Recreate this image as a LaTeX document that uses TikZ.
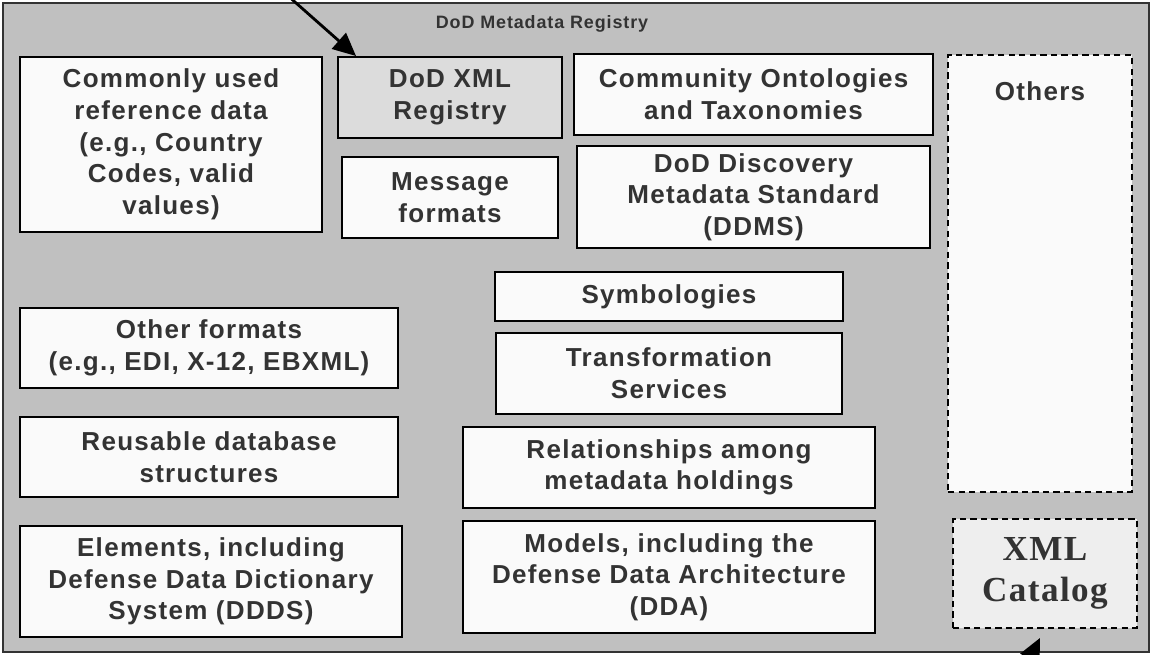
\documentclass[tikz,border=0pt]{standalone}
\usepackage{fontspec}
\setmainfont{Liberation Sans}
\newfontfamily\boxfont[LetterSpace=5]{Liberation Sans}
\newfontfamily\catfont[LetterSpace=4]{Liberation Serif}
\definecolor{regbg}{RGB}{192,192,192}
\definecolor{boxbg}{RGB}{250,250,250}
\definecolor{xmlbg}{RGB}{220,220,220}
\definecolor{catbg}{RGB}{238,238,238}
\definecolor{txtdark}{RGB}{51,51,51}
\usetikzlibrary{arrows.meta}

\begin{document}
\begin{tikzpicture}[
    item/.style={draw=black, fill=boxbg, line width=1.1pt, align=center, text=txtdark,
                 inner sep=2pt, font=\boxfont\bfseries\fontsize{14.8}{18}\selectfont},
    dashitem/.style={item, dash pattern=on 3.6pt off 2.4pt},
    feed/.style={-{Triangle[length=0.46cm,width=0.42cm]}, line width=1.6pt, black}
  ]
  \useasboundingbox (0,0) rectangle (23.02,13.1);

  %% Registry frame
  \node[draw=txtdark, fill=regbg, line width=0.8pt, minimum width=22.92cm, minimum height=12.98cm, inner sep=0pt] (reg) at (11.52,6.55) {};
  \node[text=txtdark, font=\boxfont\bfseries\fontsize{10.2}{12}\selectfont] (title) at (10.84,12.62) {DoD Metadata Registry};

  %% Left column
  \node[item, minimum width=6.04cm, minimum height=3.5cm]  (refdata)  at (3.42,10.21) {Commonly used\\reference data\\(e.g., Country\\Codes, valid\\values)};
  \node[item, minimum width=7.56cm, minimum height=1.6cm]  (otherfmt) at (4.18,6.14)  {Other formats\\(e.g., EDI, X-12, EBXML)};
  \node[item, minimum width=7.56cm, minimum height=1.6cm]  (reuse)    at (4.18,3.96)  {Reusable database\\structures};
  \node[item, minimum width=7.64cm, minimum height=2.22cm] (elem)     at (4.22,1.47)  {Elements, including\\Defense Data Dictionary\\System (DDDS)};

  %% Middle
  \node[item, fill=xmlbg, minimum width=4.48cm, minimum height=1.62cm] (xmlreg) at (9.0,11.15) {DoD XML\\Registry};
  \node[item, minimum width=4.32cm, minimum height=1.62cm] (msg)    at (9.0,9.15)   {Message\\formats};
  \node[item, minimum width=7.18cm, minimum height=1.62cm] (onto)   at (15.07,11.21) {Community Ontologies\\and Taxonomies};
  \node[item, minimum width=7.06cm, minimum height=2.04cm] (ddms)   at (15.07,9.16)  {DoD Discovery\\Metadata Standard\\(DDMS)};
  \node[item, minimum width=6.96cm, minimum height=0.98cm] (symb)   at (13.38,7.17)  {Symbologies};
  \node[item, minimum width=6.92cm, minimum height=1.62cm] (trans)  at (13.38,5.63)  {Transformation\\Services};
  \node[item, minimum width=8.24cm, minimum height=1.62cm] (rel)    at (13.38,3.75)  {Relationships among\\metadata holdings};
  \node[item, minimum width=8.24cm, minimum height=2.24cm] (models) at (13.38,1.56)  {Models, including the\\Defense Data Architecture\\(DDA)};

  %% Right column
  \node[dashitem, minimum width=3.68cm, minimum height=8.74cm,
        label={[anchor=north, yshift=-0.42cm, text=txtdark, font=\boxfont\bfseries\fontsize{14.8}{18}\selectfont]north:Others}] (others) at (20.8,7.63) {};
  \node[dashitem, fill=catbg, minimum width=3.68cm, minimum height=2.18cm,
        font=\catfont\bfseries\fontsize{20}{23}\selectfont] (cat) at (20.9,1.63) {XML\\Catalog};

  %% Incoming arrows
  \coordinate (regsrc) at (5.22,13.66);
  \coordinate (catsrc) at (19.92,-1.44);
  \draw[feed] (regsrc) -- ([xshift=0.38cm]xmlreg.north west);
  \draw[feed] (catsrc) -- ([xshift=-0.1cm,yshift=-0.18cm]cat.south);
\end{tikzpicture}
\end{document}
